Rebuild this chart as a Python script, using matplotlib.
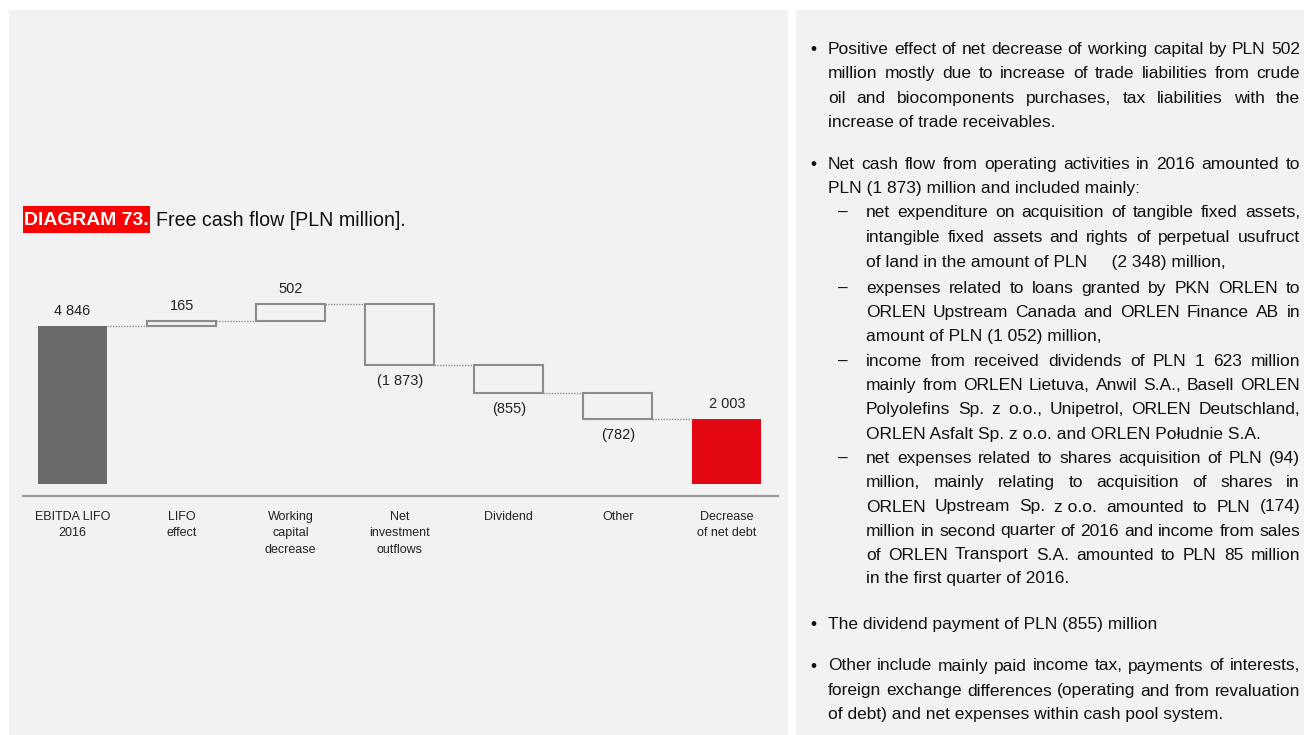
import matplotlib
matplotlib.use("Agg")
import matplotlib.pyplot as plt
from matplotlib import font_manager
from matplotlib.patches import Rectangle

# fuente estrecha si existe; si no, Liberation Sans con tamaños reducidos
names = {f.name for f in font_manager.fontManager.ttflist}
if 'Liberation Sans Narrow' in names:
    FONT, K = 'Liberation Sans Narrow', 1.0
else:
    FONT, K = 'Liberation Sans', 0.82
plt.rcParams['font.family'] = [FONT, 'DejaVu Sans']

# Datos del gráfico de cascada
categories = ['EBITDA LIFO\n2016', 'LIFO\neffect', 'Working\ncapital\ndecrease',
              'Net\ninvestment\noutflows', 'Dividend', 'Other', 'Decrease\nof net debt']
values = [4846, 165, 502, -1873, -855, -782, 2003]
value_labels = ['4 846', '165', '502', '(1 873)', '(855)', '(782)', '2 003']
kinds = ['total', 'delta', 'delta', 'delta', 'delta', 'delta', 'total']

title_tag = 'DIAGRAM 73.'
title_text = 'Free cash flow [PLN million].'

# Texto de la derecha: (sangría, y, texto, justificar, marcador)
text_lines = [
    (0, 48, "Positive effect of net decrease of working capital by PLN 502", True, 'bullet'),
    (0, 72, "million mostly due to increase of trade liabilities from crude", True, None),
    (0, 97, "oil and biocomponents purchases, tax liabilities with the", True, None),
    (0, 121, "increase of trade receivables.", False, None),
    (0, 163, "Net cash flow from operating activities in 2016 amounted to", True, 'bullet'),
    (0, 187, "PLN (1 873) million and included mainly:", False, None),
    (1, 211, "net expenditure on acquisition of tangible fixed assets,", True, 'dash'),
    (1, 236, "intangible fixed assets and rights of perpetual usufruct", True, None),
    (1, 261, "of land in the amount of PLN     (2 348) million,", False, None),
    (1, 287, "expenses related to loans granted by PKN ORLEN to", True, 'dash'),
    (1, 311, "ORLEN Upstream Canada and ORLEN Finance AB in", True, None),
    (1, 335, "amount of PLN (1 052) million,", False, None),
    (1, 360, "income from received dividends of PLN 1 623 million", True, 'dash'),
    (1, 384, "mainly from ORLEN Lietuva, Anwil S.A., Basell ORLEN", True, None),
    (1, 408, "Polyolefins Sp. z o.o., Unipetrol, ORLEN Deutschland,", True, None),
    (1, 433, "ORLEN Asfalt Sp. z o.o. and ORLEN Południe S.A.", False, None),
    (1, 457, "net expenses related to shares acquisition of PLN (94)", True, 'dash'),
    (1, 481, "million, mainly relating to acquisition of shares in", True, None),
    (1, 506, "ORLEN Upstream Sp. z~o.o. amounted to PLN (174)", True, None),
    (1, 530, "million in second quarter of 2016 and income from sales", True, None),
    (1, 554, "of ORLEN Transport S.A. amounted to PLN 85 million", True, None),
    (1, 578, "in the first quarter of 2016.", False, None),
    (0, 623, "The dividend payment of PLN (855) million", False, 'bullet'),
    (0, 665, "Other include mainly paid income tax, payments of interests,", True, 'bullet'),
    (0, 690, "foreign exchange differences (operating and from revaluation", True, None),
    (0, 714, "of debt) and net expenses within cash pool system.", False, None),
]

W, H = 1305, 735
fig = plt.figure(figsize=(W / 100, H / 100), dpi=100)
fig.patch.set_facecolor('white')

# eje de fondo en píxeles
bg = fig.add_axes([0, 0, 1, 1], zorder=0)
bg.set_xlim(0, W)
bg.set_ylim(H, 0)
bg.axis('off')
bg.add_patch(Rectangle((9, 10), 779, H - 10, fc='#f2f2f2', ec='none'))
bg.add_patch(Rectangle((796, 10), 508, H - 10, fc='#f2f2f2', ec='none'))

# título
bg.add_patch(Rectangle((23, 206), 127, 27, fc='#ff0000', ec='none'))
bg.text(86.5, 220, title_tag, color='white', fontsize=17 * K, fontweight='bold',
        va='center', ha='center')
bg.text(156, 220, title_text, color='#111111', fontsize=17.2 * K, va='center', ha='left')

# gráfico de cascada
ax = fig.add_axes([23 / W, (H - 496) / H, (778 - 23) / W, (496 - 270) / H], zorder=1)
ax.set_facecolor('none')

x = list(range(len(values)))
bw = 0.633
bottoms, heights, levels = [], [], []
run = 0
for v, k in zip(values, kinds):
    if k == 'total':
        bottoms.append(0)
        heights.append(v)
        run = v
    else:
        bottoms.append(min(run, run + v))
        heights.append(abs(v))
        run += v
    levels.append(run)

for i, (b, h, k) in enumerate(zip(bottoms, heights, kinds)):
    if k == 'total':
        fc = '#6b6b6b' if i == 0 else '#e30613'
        ax.bar(x[i], h, bw, bottom=b, color=fc, edgecolor='none')
    else:
        ax.bar(x[i], h, bw, bottom=b, facecolor='none', edgecolor='#8c8c8c', linewidth=1.5)

for i in range(len(values) - 1):
    ax.plot([x[i] + bw / 2, x[i + 1] - bw / 2], [levels[i], levels[i]],
            linestyle=(0, (1, 1)), color='#8c8c8c', linewidth=1)

for i, (b, h, v, lab) in enumerate(zip(bottoms, heights, values, value_labels)):
    if v > 0:
        ax.annotate(lab, (x[i], b + h), xytext=(0, 15), textcoords='offset pixels',
                    ha='center', va='center', fontsize=12.7 * K, color='#222222')
    else:
        ax.annotate(lab, (x[i], b), xytext=(0, -16), textcoords='offset pixels',
                    ha='center', va='center', fontsize=12.7 * K, color='#222222')

ax.set_xlim(-0.455, 6.47)
ax.set_ylim(-368, 6563)
ax.set_xticks(x)
ax.set_xticklabels(categories, fontsize=11 * K, color='#222222', linespacing=1.5)
ax.tick_params(axis='x', length=0, pad=10.5)
ax.set_yticks([])
for s in ['top', 'left', 'right']:
    ax.spines[s].set_visible(False)
ax.spines['bottom'].set_color('#9a9a9a')
ax.spines['bottom'].set_linewidth(1.6)

# texto justificado a la derecha (palabras sobre la línea base)
FS = 15.3 * K
BASE = 5.5
renderer = fig.canvas.get_renderer()
X_RIGHT = 1300
for lvl, y, txt, just, mark in text_lines:
    x0 = 828 if lvl == 0 else 866
    yb = y + BASE
    if mark == 'bullet':
        bg.text(813, yb, '•', fontsize=FS, va='baseline', ha='center', color='#111111')
    elif mark == 'dash':
        bg.text(843, yb, '–', fontsize=FS, va='baseline', ha='center', color='#111111')
    if not just:
        bg.text(x0, yb, txt.replace('~', ' '), fontsize=FS, va='baseline', ha='left', color='#111111')
        continue
    words = [w.replace('~', ' ') for w in txt.split(' ')]
    objs = [bg.text(x0, yb, w, fontsize=FS, va='baseline', ha='left', color='#111111') for w in words]
    widths = [o.get_window_extent(renderer).width for o in objs]
    gap = (X_RIGHT - x0 - sum(widths)) / (len(words) - 1)
    xx = x0
    for o, wd in zip(objs, widths):
        o.set_x(xx)
        xx += wd + gap

fig.savefig('out.png', dpi=100)
